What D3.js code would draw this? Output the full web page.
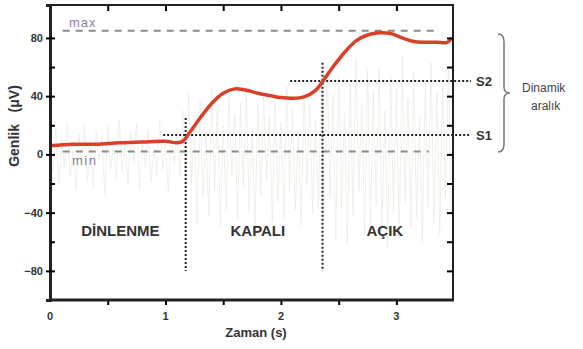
<!DOCTYPE html>
<html>
<head>
<meta charset="utf-8">
<script src="https://cdn.jsdelivr.net/npm/d3@7"></script>
<style>
  body { margin: 0; background: #fff; }
  text { font-family: "Liberation Sans", Arial, sans-serif; }
</style>
</head>
<body>
<script>
// averaged amplitude (red trace)
const avgTime = [0, 0.2, 0.4, 0.6, 0.8, 1.0, 1.1, 1.15, 1.2, 1.3, 1.4, 1.5, 1.6, 1.7, 1.8, 1.9, 2.0, 2.1, 2.2, 2.3, 2.36, 2.45, 2.55, 2.65, 2.75, 2.85, 2.95, 3.05, 3.15, 3.25, 3.35, 3.44, 3.48];
const avgValue = [6, 7, 7, 8, 8.5, 9, 8, 9, 14, 25, 35, 42, 45, 44, 42, 40.5, 39, 38.5, 39.5, 44, 50, 60, 70, 78, 82, 83.5, 83, 80, 77.5, 77, 77, 77, 80];

// raw signal (faint grey), one sample per noiseStep seconds
const noiseStep = 0.025;
const rawRest = [5, -12, 18, -20, 10, -8, 22, -15, 3, -25, 14, -6, 20, -18, 8, -22, 16, -4, 12, -28, 19, -10, 6, -16, 24, -12, 9, -20, 15, -5, 21, -24, 11, -9, 17, -19, 4, -14, 23, -11, 7, -26, 13, -7, 18, -15];
const rawClosed = [30, -35, 42, -20, 25, -48, 38, -30, 15, -42, 45, -25, 33, -50, 20, -38, 40, -15, 28, -45, 36, -22, 44, -40, 18, -52, 34, -28, 41, -18, 26, -46, 39, -33, 22, -44, 47, -26, 31, -38, 16, -49, 43, -21, 35, -41, 24, -36];
const rawOpen = [50, -45, 62, -30, 40, -58, 55, -38, 28, -62, 48, -42, 66, -25, 35, -55, 58, -48, 44, -35, 60, -52, 30, -64, 53, -40, 46, -57, 68, -33, 38, -50, 57, -44, 26, -60, 51, -37, 63, -47, 42, -55, 49, -30, 59, -41];

// reference levels
const maxLevel = 85;
const minLevel = 2;
const s1Level = 13.4;
const s2Level = 50.4;
const s1Start = 0.98, s2Start = 2.08;
const markerTimes = [1.175, 2.36];
const markerTop = [25, 63];

const phases = [
  { label: "DİNLENME", t: 0.61 },
  { label: "KAPALI", t: 1.8 },
  { label: "AÇIK", t: 2.9 }
];

const yMajor = [-80, -40, 0, 40, 80];
const yMinor = [-60, -20, 20, 60];
const yAll = [-80, -60, -40, -20, 0, 20, 40, 60, 80];
const xTicks = [0.5, 1, 1.5, 2, 2.5, 3];
const xLabels = [0, 1, 2, 3];

const width = 583, height = 349;
const m = { left: 50, right: 453, top: 5, bottom: 300 };

const svg = d3.select("body").append("svg")
  .attr("width", width)
  .attr("height", height);

const x = d3.scaleLinear().domain([0, 3.49]).range([m.left, m.right]);
const y = d3.scaleLinear().domain([-100, 102.6]).range([m.bottom, m.top]);

// raw signal
const raw = rawRest.concat(rawClosed, rawOpen).map((v, i) => ({ t: i * noiseStep, v }));
svg.append("path")
  .datum(raw)
  .attr("fill", "none")
  .attr("stroke", "#ecece6")
  .attr("stroke-width", 0.8)
  .attr("d", d3.line().x(d => x(d.t)).y(d => y(d.v)));

// max / min dashed lines
const dashed = svg.append("g")
  .attr("stroke", "#8a8a8a")
  .attr("stroke-width", 2)
  .attr("stroke-dasharray", "7,6");
dashed.append("line")
  .attr("x1", x(0.11)).attr("x2", x(3.36))
  .attr("y1", y(maxLevel)).attr("y2", y(maxLevel));
dashed.append("line")
  .attr("x1", x(0.11)).attr("x2", x(3.28))
  .attr("y1", y(minLevel)).attr("y2", y(minLevel));

svg.append("text")
  .attr("x", 69).attr("y", y(maxLevel) - 4)
  .attr("fill", "#8c7c9c")
  .attr("font-size", 13)
  .attr("letter-spacing", 1)
  .text("max");
svg.append("text")
  .attr("x", 72).attr("y", y(minLevel) + 14)
  .attr("fill", "#8c7c9c")
  .attr("font-size", 13)
  .attr("letter-spacing", 1.5)
  .text("min");

// dotted threshold lines
const dotted = svg.append("g")
  .attr("stroke", "#222")
  .attr("stroke-width", 2)
  .attr("stroke-dasharray", "2,2");
dotted.append("line")
  .attr("x1", x(s1Start)).attr("x2", 471)
  .attr("y1", y(s1Level)).attr("y2", y(s1Level));
dotted.append("line")
  .attr("x1", x(s2Start)).attr("x2", 471)
  .attr("y1", y(s2Level)).attr("y2", y(s2Level));
markerTimes.forEach((t, i) => {
  dotted.append("line")
    .attr("x1", x(t)).attr("x2", x(t))
    .attr("y1", y(markerTop[i])).attr("y2", y(-80));
});

// averaged trace
svg.append("path")
  .datum(avgTime.map((t, i) => ({ t, v: avgValue[i] })))
  .attr("fill", "none")
  .attr("stroke", "#d8402a")
  .attr("stroke-width", 3.5)
  .attr("stroke-linejoin", "round")
  .attr("d", d3.line().curve(d3.curveCatmullRom).x(d => x(d.t)).y(d => y(d.v)));

// frame
svg.append("rect")
  .attr("x", m.left).attr("y", m.top)
  .attr("width", m.right - m.left).attr("height", m.bottom - m.top)
  .attr("fill", "none")
  .attr("stroke", "#222")
  .attr("stroke-width", 2);

// axes
const axisLeft = svg.append("g")
  .attr("transform", `translate(${m.left},0)`)
  .call(d3.axisLeft(y).tickValues(yMajor).tickSize(4).tickPadding(3));
axisLeft.select(".domain").attr("stroke", "#222").attr("stroke-width", 3);
axisLeft.selectAll(".tick line").attr("x1", 5).attr("stroke-width", 2);
axisLeft.selectAll(".tick text")
  .attr("font-size", 11).attr("font-weight", "bold").attr("fill", "#333");

const axisLeftMinor = svg.append("g")
  .attr("transform", `translate(${m.left},0)`)
  .call(d3.axisLeft(y).tickValues(yMinor).tickSize(-5).tickFormat(""));
axisLeftMinor.select(".domain").remove();
axisLeftMinor.selectAll(".tick line").attr("stroke-width", 2);

const axisRight = svg.append("g")
  .attr("transform", `translate(${m.right},0)`)
  .call(d3.axisRight(y).tickValues(yAll).tickSize(-6).tickFormat(""));
axisRight.select(".domain").remove();
axisRight.selectAll(".tick line").attr("stroke-width", 2);

const axisTop = svg.append("g")
  .attr("transform", `translate(0,${m.top})`)
  .call(d3.axisTop(x).tickValues(xTicks).tickSize(-6).tickFormat(""));
axisTop.select(".domain").remove();
axisTop.selectAll(".tick line").attr("stroke-width", 2);

const axisBottom = svg.append("g")
  .attr("transform", `translate(0,${m.bottom})`)
  .call(d3.axisBottom(x).tickValues(xTicks).tickSize(5).tickFormat(""));
axisBottom.select(".domain").remove();
axisBottom.selectAll(".tick line").attr("stroke-width", 2);
svg.append("line")
  .attr("x1", m.left - 1).attr("x2", m.right + 1)
  .attr("y1", m.bottom).attr("y2", m.bottom)
  .attr("stroke", "#222").attr("stroke-width", 3);

svg.append("g").selectAll("text")
  .data(xLabels)
  .join("text")
  .attr("x", d => x(d))
  .attr("y", m.bottom + 20)
  .attr("text-anchor", "middle")
  .attr("font-size", 11).attr("font-weight", "bold").attr("fill", "#333")
  .text(d => d);

// axis titles
svg.append("text")
  .attr("x", 256).attr("y", 337)
  .attr("text-anchor", "middle")
  .attr("font-size", 13).attr("font-weight", "bold").attr("fill", "#333")
  .text("Zaman (s)");
svg.append("text")
  .attr("transform", "translate(19,126) rotate(-90)")
  .attr("text-anchor", "middle")
  .attr("font-size", 14).attr("font-weight", "bold").attr("fill", "#333")
  .attr("xml:space", "preserve")
  .style("white-space", "pre")
  .text("Genlik   (μV)");

// phase labels
svg.append("g").selectAll("text")
  .data(phases)
  .join("text")
  .attr("x", d => x(d.t))
  .attr("y", y(-56))
  .attr("text-anchor", "middle")
  .attr("font-size", 15).attr("font-weight", "bold").attr("fill", "#333")
  .text(d => d.label);

// S1 / S2 labels
svg.append("text")
  .attr("x", 476).attr("y", y(s2Level) + 5)
  .attr("font-size", 13).attr("font-weight", "bold").attr("fill", "#333")
  .text("S2");
svg.append("text")
  .attr("x", 476).attr("y", y(s1Level) + 5)
  .attr("font-size", 13).attr("font-weight", "bold").attr("fill", "#333")
  .text("S1");

// brace for dynamic range
const bx = 498, by0 = 34, by1 = 152, bm = (by0 + by1) / 2, bw = 12;
svg.append("path")
  .attr("d", `M${bx},${by0} Q${bx + bw / 2},${by0} ${bx + bw / 2},${by0 + 8} L${bx + bw / 2},${bm - 6} Q${bx + bw / 2},${bm} ${bx + bw},${bm} Q${bx + bw / 2},${bm} ${bx + bw / 2},${bm + 6} L${bx + bw / 2},${by1 - 8} Q${bx + bw / 2},${by1} ${bx},${by1}`)
  .attr("fill", "none")
  .attr("stroke", "#777")
  .attr("stroke-width", 1.5);

svg.append("text")
  .attr("x", 522).attr("y", 92)
  .attr("font-size", 12).attr("fill", "#444")
  .text("Dinamik");
svg.append("text")
  .attr("x", 531).attr("y", 110)
  .attr("font-size", 12).attr("fill", "#444")
  .text("aralık");
</script>
</body>
</html>
